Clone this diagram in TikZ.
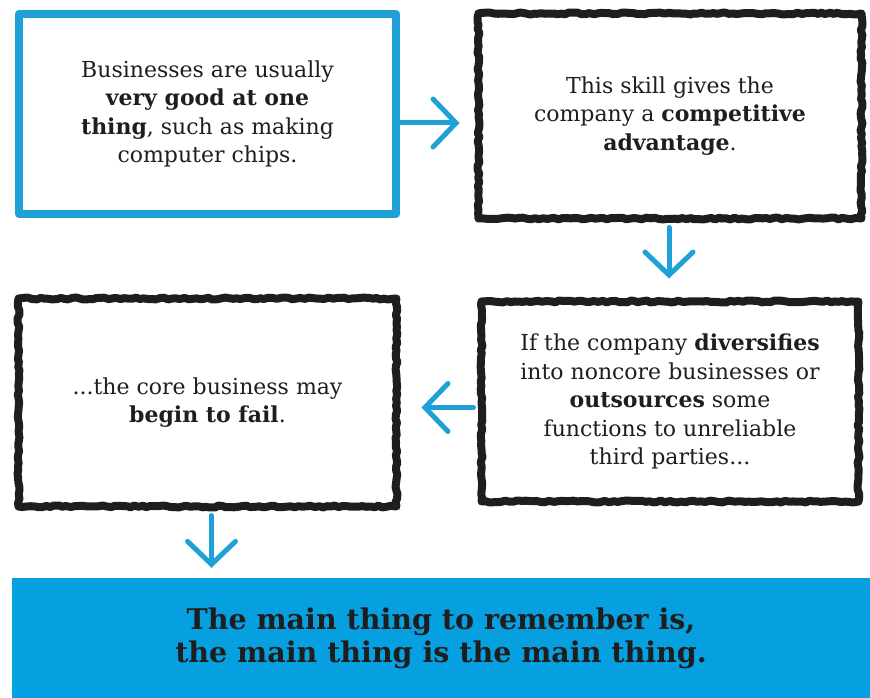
\documentclass[tikz,border=0pt]{standalone}
\usepackage{fontspec}
\setmainfont{DejaVu Serif}
\usetikzlibrary{arrows.meta,decorations.pathmorphing}
\definecolor{penblue}{HTML}{1FA0D6}
\definecolor{bandblue}{HTML}{06A0E0}
\definecolor{inkblack}{HTML}{1E1E1E}

\begin{document}
\pgfmathsetseed{11}
\begin{tikzpicture}[x=1pt,y=-1pt,
    card/.style={rectangle, draw, line width=8pt, line join=round, align=center,
      inner sep=0pt, text=inkblack, font=\fontsize{22}{28.5}\selectfont},
    rough/.style={draw=inkblack, decorate,
      decoration={random steps, segment length=4pt, amplitude=1pt}},
    flow/.style={draw=penblue, line width=5pt, line cap=round,
      -{Straight Barb[length=23pt, width=48pt, line cap=round]}}]
  \useasboundingbox[fill=white] (0,0) rectangle (870,698);

  % the four steps
  \node[card, draw=penblue, minimum width=377pt, minimum height=200pt]
    (busy) at (207.5,114) {Businesses are usually\\ \textbf{very good at one}\\
      \textbf{thing}, such as making\\ computer chips.};
  \node[card, rough, minimum width=383pt, minimum height=205pt]
    (skill) at (670,116) {This skill gives the\\ company a \textbf{competitive}\\
      \textbf{advantage}.};
  \node[card, rough, minimum width=377pt, minimum height=200pt]
    (diverse) at (670,401.5) {If the company \textbf{diversifies}\\
      into noncore businesses or\\ \textbf{outsources} some\\
      functions to unreliable\\ third parties...};
  \node[card, rough, minimum width=378pt, minimum height=208pt]
    (fail) at (207.5,402.5) {...the core business may\\ \textbf{begin to fail}.};

  % bottom line
  \node[fill=bandblue, minimum width=858pt, minimum height=120pt, inner sep=0pt,
    align=center, text=inkblack, font=\fontsize{28.5}{33}\selectfont\bfseries]
    (mainthing) at (441,638) {The main thing to remember is,\\
      the main thing is the main thing.};

  % arrows
  \draw[flow, shorten >=15pt] ([yshift=-9pt]busy.east) -- ([yshift=-9pt]busy.east -| skill.west);
  \draw[flow, shorten <=5pt, shorten >=19pt] ([xshift=-1pt]skill.south) -- ([xshift=-1pt]skill.south |- diverse.north);
  \draw[flow, shorten <=4pt, shorten >=21pt] ([yshift=-6pt]diverse.west) -- ([yshift=-6pt]diverse.west -| fail.east);
  \draw[flow, shorten <=5pt, shorten >=10pt] ([xshift=4pt]fail.south) -- ([xshift=4pt]fail.south |- mainthing.north);
\end{tikzpicture}
\end{document}
